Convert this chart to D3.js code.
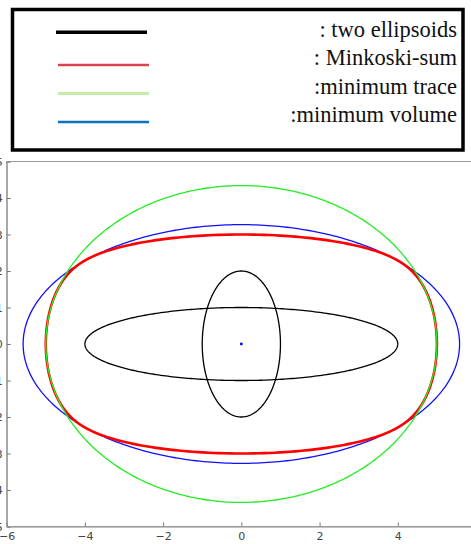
<!DOCTYPE html>
<html>
<head>
<meta charset="utf-8">
<script src="https://cdn.jsdelivr.net/npm/d3@7"></script>
<style>
  body { margin: 0; background: #fff; }
  svg { display: block; }
  .leg { font-family: "Liberation Serif", "Times New Roman", Times, "DejaVu Serif", serif; font-size: 22.5px; }
  .tick text { font-family: "DejaVu Sans", sans-serif; font-size: 11px; }
</style>
</head>
<body>
<div id="chart"></div>
<script>
// legend entries
const legendLabels = [": two ellipsoids", ": Minkoski-sum", ":minimum trace", ":minimum volume"];
const legendColors = ["#000000", "#d9434c", "#c4eea6", "#0a72c0"];

// axis ticks
const xTicks = [-6, -4, -2, 0, 2, 4, 6];
const yTicks = [-5, -4, -3, -2, -1, 0, 1, 2, 3, 4, 5];

// two input ellipses: semi-axes [a, b], centred at the origin
const ellipseA = [4, 1];
const ellipseB = [1, 2];
// outer approximations
const traceEllipse = [5.0, 4.34];
const volumeEllipse = [5.58, 3.27];
const centre = [0, 0];

const W = 471, H = 544;
const plot = {left: 6.7, right: 476, top: 161.5, bottom: 526.5};

const svg = d3.select("#chart")
  .append("svg")
  .attr("width", W)
  .attr("height", H);

const x = d3.scaleLinear().domain([-6, 6]).range([plot.left, plot.right]);
const y = d3.scaleLinear().domain([-5, 5]).range([plot.bottom, plot.top]);

// Legend box
svg.append("rect")
  .attr("x", 12.5).attr("y", 9.5)
  .attr("width", 450.5).attr("height", 140.5)
  .attr("fill", "none")
  .attr("stroke", "#000")
  .attr("stroke-width", 3.5);

const rowY = [32.3, 65, 93.5, 122];
const textY = [36.5, 65, 93.5, 122];
const lineW = [3.5, 2.5, 3, 2.5];

legendLabels.forEach((lab, i) => {
  svg.append("line")
    .attr("x1", i === 0 ? 56 : 58).attr("x2", i === 0 ? 147 : 149)
    .attr("y1", rowY[i]).attr("y2", rowY[i])
    .attr("stroke", legendColors[i])
    .attr("stroke-width", lineW[i]);
  svg.append("text")
    .attr("class", "leg")
    .attr("x", 457).attr("y", textY[i])
    .attr("text-anchor", "end")
    .attr("fill", "#111")
    .text(lab);
});

// Axes (ticks pointing inward)
const gx = svg.append("g")
  .attr("transform", `translate(0,${plot.bottom})`)
  .call(d3.axisBottom(x).tickValues(xTicks).tickSize(-4).tickPadding(6).tickFormat(d3.format("d")));
const gy = svg.append("g")
  .attr("transform", `translate(${plot.left},0)`)
  .call(d3.axisLeft(y).tickValues(yTicks).tickSize(-4).tickPadding(4).tickFormat(d3.format("d")));

[gx, gy].forEach(g => {
  g.attr("font-family", null).attr("font-size", null);
  g.select(".domain").attr("stroke", "#888");
  g.selectAll(".tick line").attr("stroke", "#777");
  g.selectAll(".tick text").attr("fill", "#444");
});

// frame top and right
svg.append("rect")
  .attr("x", plot.left).attr("y", plot.top)
  .attr("width", plot.right - plot.left).attr("height", plot.bottom - plot.top)
  .attr("fill", "none")
  .attr("stroke", "#999")
  .attr("stroke-width", 1);

// ellipse boundary via the library scales
const angles = d3.range(0, 361).map(d => d * Math.PI / 180);
const line = d3.line().x(d => x(d[0])).y(d => y(d[1])).curve(d3.curveLinearClosed);

function ellipsePts(ab) {
  return angles.map(t => [ab[0] * Math.cos(t), ab[1] * Math.sin(t)]);
}

// Minkowski sum boundary from the support functions of the two ellipses
function minkowskiPts(e1, e2) {
  return d3.range(0, 720).map(k => {
    const t = k * Math.PI / 360;
    const ux = Math.cos(t), uy = Math.sin(t);
    const q1x = e1[0] * e1[0] * ux, q1y = e1[1] * e1[1] * uy;
    const q2x = e2[0] * e2[0] * ux, q2y = e2[1] * e2[1] * uy;
    const n1 = Math.sqrt(ux * q1x + uy * q1y);
    const n2 = Math.sqrt(ux * q2x + uy * q2y);
    return [q1x / n1 + q2x / n2, q1y / n1 + q2y / n2];
  });
}

svg.append("path")
  .attr("d", line(ellipsePts(ellipseA)))
  .attr("fill", "none").attr("stroke", "#000").attr("stroke-width", 1.3);
svg.append("path")
  .attr("d", line(ellipsePts(ellipseB)))
  .attr("fill", "none").attr("stroke", "#000").attr("stroke-width", 1.3);

svg.append("path")
  .attr("d", line(ellipsePts(volumeEllipse)))
  .attr("fill", "none").attr("stroke", "#1010ff").attr("stroke-width", 1.3);

svg.append("path")
  .attr("d", line(minkowskiPts(ellipseA, ellipseB)))
  .attr("fill", "none").attr("stroke", "#ff0000").attr("stroke-width", 2.6);

svg.append("path")
  .attr("d", line(ellipsePts(traceEllipse)))
  .attr("fill", "none").attr("stroke", "#22ee22").attr("stroke-width", 1.3);

svg.append("circle")
  .attr("cx", x(centre[0])).attr("cy", y(centre[1]))
  .attr("r", 1.4)
  .attr("fill", "#0000ff");
</script>
</body>
</html>
